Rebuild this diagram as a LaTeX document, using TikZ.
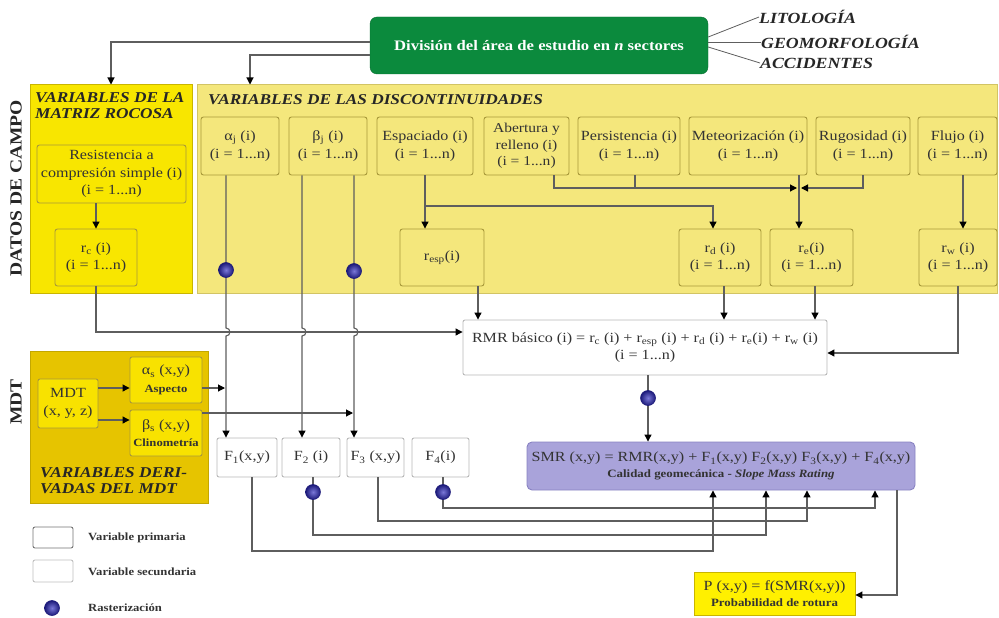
\documentclass[tikz,border=0pt]{standalone}
\usepackage{fontspec}
\setmainfont{Liberation Serif}[FakeStretch=1.15]
\usetikzlibrary{arrows.meta}
\definecolor{lineC}{HTML}{5E5E5E}
\definecolor{txtC}{HTML}{333333}
\definecolor{matFill}{HTML}{F8E600}
\definecolor{matDraw}{HTML}{C9B500}
\definecolor{discFill}{HTML}{F4E77C}
\definecolor{discDraw}{HTML}{D2C464}
\definecolor{innerDraw}{HTML}{A8993A}
\definecolor{mdtFill}{HTML}{E6C400}
\definecolor{mdtInner}{HTML}{F8E200}
\definecolor{greenC}{HTML}{0B8A3D}
\definecolor{smrFill}{HTML}{A9A3DA}
\definecolor{smrDraw}{HTML}{8983C2}
\definecolor{pFill}{HTML}{FFF000}
\definecolor{dotIn}{HTML}{7A78D8}
\definecolor{dotOut}{HTML}{1C1A7A}
\newcommand{\subtxtfont}{\fontsize{11.2}{13}\selectfont\bfseries}
\begin{document}
\begin{tikzpicture}[x=1pt,y=-1pt,
  line/.style={draw=lineC, line width=1.1pt},
  arr/.style={line, -{Triangle[length=7pt,width=7pt,color=black]}},
  boxtxt/.style={align=center, inner sep=1pt, text=txtC, font=\fontsize{14}{17.5}\selectfont},
  ybox/.style={boxtxt, draw=innerDraw, fill=discFill, line width=0.9pt, rounded corners=2.5pt},
  mbox/.style={boxtxt, draw=innerDraw, fill=matFill, line width=0.9pt, rounded corners=2.5pt},
  dbox/.style={boxtxt, draw=innerDraw, fill=mdtInner, line width=0.9pt, rounded corners=2pt},
  wbox/.style={boxtxt, draw=black!28, fill=white, line width=0.9pt, rounded corners=2pt},
  bigbox/.style={line width=1pt},
  title/.style={font=\fontsize{15}{17}\selectfont\bfseries\itshape, text=black!85, align=left, inner sep=0pt},
  sidelab/.style={font=\fontsize{17}{19}\selectfont\bfseries, text=black!85, rotate=90, inner sep=0pt},
  rlab/.style={font=\fontsize{15.5}{17}\selectfont\bfseries\itshape, text=black!85, anchor=west, inner sep=0pt},
  raster/.style={circle, minimum size=15pt, inner sep=0pt, inner color=dotIn, outer color=dotOut, draw=dotOut, line width=0.6pt},
  smalltxt/.style={font=\fontsize{11}{13}\selectfont\bfseries, text=txtC, anchor=west, inner sep=0pt}
]
\useasboundingbox (0,0) rectangle (999,618);

% ---- big background boxes
\node[bigbox, draw=matDraw, fill=matFill, minimum width=162pt, minimum height=208pt, inner sep=0pt] (mat) at (111,189) {};
\node[bigbox, draw=discDraw, fill=discFill, minimum width=800pt, minimum height=208pt, inner sep=0pt] (disc) at (597,189) {};
\node[bigbox, draw=mdtFill!85!black, fill=mdtFill, minimum width=178pt, minimum height=152pt, inner sep=0pt] (mdtbg) at (119,427) {};

% ---- titles
\node[title, anchor=north west] (mattitle) at (35,92) {VARIABLES DE LA\\[-1pt]MATRIZ ROCOSA};
\node[title, anchor=north west] (disctitle) at (208,94) {VARIABLES DE LAS DISCONTINUIDADES};
\node[title, anchor=north west] (mdttitle) at (40,467) {VARIABLES DERI-\\[-1pt]VADAS DEL MDT};
\node[sidelab] (datos) at (16,188) {DATOS DE CAMPO};
\node[sidelab] (mdtlab) at (16,402) {MDT};

% ---- green box and labels
\node[fill=greenC, draw=greenC!80!black, rounded corners=7pt, minimum width=338pt, minimum height=57pt, text=white,
      font=\fontsize{14.5}{17}\selectfont\bfseries] (green) at (539,45.5) {División del área de estudio en \textit{n} sectores};
\node[rlab] (lit) at (759,17) {LITOLOGÍA};
\node[rlab] (geo) at (761,42) {GEOMORFOLOGÍA};
\node[rlab] (acc) at (760,63) {ACCIDENTES};
\draw[line, line width=0.8pt] (green.east |- 0,37) -- (lit.west);
\draw[line, line width=0.8pt] (green.east |- 0,42) -- (geo.west);
\draw[line, line width=0.8pt] (green.east |- 0,47) -- (acc.west);

% ---- matrix box content
\node[mbox, minimum width=149pt, minimum height=58pt] (res) at (111.5,174) {Resistencia a\\compresión simple (i)\\(i = 1...n)};
\node[mbox, minimum width=82pt, minimum height=57pt] (rc) at (96,257.5) {r\textsubscript{c} (i)\\(i = 1...n)};

% ---- discontinuity top row
\node[ybox, minimum width=78pt, minimum height=58pt] (aj) at (240,146) {α\textsubscript{j} (i)\\(i = 1...n)};
\node[ybox, minimum width=78pt, minimum height=58pt] (bj) at (328,146) {β\textsubscript{j} (i)\\(i = 1...n)};
\node[ybox, minimum width=96pt, minimum height=58pt] (esp) at (425,146) {Espaciado (i)\\(i = 1...n)};
\node[ybox, minimum width=85pt, minimum height=58pt, font=\fontsize{13.5}{16.5}\selectfont] (abe) at (526.5,146) {Abertura y\\relleno (i)\\(i = 1...n)};
\node[ybox, minimum width=102pt, minimum height=58pt] (per) at (629,146) {Persistencia (i)\\(i = 1...n)};
\node[ybox, minimum width=118pt, minimum height=58pt] (met) at (748,146) {Meteorización (i)\\(i = 1...n)};
\node[ybox, minimum width=94pt, minimum height=58pt] (rug) at (863,146) {Rugosidad (i)\\(i = 1...n)};
\node[ybox, minimum width=79pt, minimum height=58pt] (flu) at (957.5,146) {Flujo (i)\\(i = 1...n)};

% ---- discontinuity second row
\node[ybox, minimum width=84pt, minimum height=57pt] (resp) at (442,257.5) {r\textsubscript{esp}(i)};
\node[ybox, minimum width=82pt, minimum height=57pt] (rd) at (720,257.5) {r\textsubscript{d} (i)\\(i = 1...n)};
\node[ybox, minimum width=83pt, minimum height=57pt] (re) at (811.5,257.5) {r\textsubscript{e}(i)\\(i = 1...n)};
\node[ybox, minimum width=78pt, minimum height=57pt] (rw) at (958,257.5) {r\textsubscript{w} (i)\\(i = 1...n)};

% ---- MDT content
\node[dbox, minimum width=60pt, minimum height=49pt] (mdt) at (68,403.5) {MDT\\(x, y, z)};
\node[dbox, minimum width=72pt, minimum height=46pt] (asp) at (166,380) {α\textsubscript{s} (x,y)\\{\fontsize{11}{12}\selectfont\bfseries Aspecto}};
\node[dbox, minimum width=72pt, minimum height=46pt] (cli) at (166,433) {β\textsubscript{s} (x,y)\\{\fontsize{11}{12}\selectfont\bfseries Clinometría}};

% ---- RMR, F boxes, SMR, P
\node[wbox, minimum width=364pt, minimum height=55pt] (rmr) at (645,347.5) {RMR básico (i) = r\textsubscript{c} (i) + r\textsubscript{esp} (i) + r\textsubscript{d} (i) + r\textsubscript{e}(i) + r\textsubscript{w} (i)\\(i = 1...n)};
\node[wbox, minimum width=60pt, minimum height=39pt] (F1) at (247,457.5) {F\textsubscript{1}(x,y)};
\node[wbox, minimum width=58pt, minimum height=39pt] (F2) at (311,457.5) {F\textsubscript{2} (i)};
\node[wbox, minimum width=57pt, minimum height=39pt] (F3) at (375.5,457.5) {F\textsubscript{3} (x,y)};
\node[wbox, minimum width=57pt, minimum height=39pt] (F4) at (440.5,457.5) {F\textsubscript{4}(i)};
\node[boxtxt, draw=smrDraw, fill=smrFill, rounded corners=5pt, line width=0.9pt, minimum width=388pt, minimum height=48pt] (smr) at (721,466)
  {SMR (x,y) = RMR(x,y) + F\textsubscript{1}(x,y) F\textsubscript{2}(x,y) F\textsubscript{3}(x,y) + F\textsubscript{4}(x,y)\\[-2pt]{\subtxtfont Calidad geomecánica - \itshape Slope Mass Rating}};
\node[boxtxt, draw=matDraw, fill=pFill, line width=0.9pt, minimum width=161pt, minimum height=43pt] (P) at (774.5,593.5)
  {P (x,y) = f(SMR(x,y))\\[-2pt]{\subtxtfont Probabilidad de rotura}};

% ---- legend
\node[wbox, draw=black!55, minimum width=40pt, minimum height=21pt] (lg1) at (53,537.5) {};
\node[wbox, draw=black!25, minimum width=40pt, minimum height=22pt] (lg2) at (53,571) {};
\node[raster] (lg3) at (52,608) {};
\node[smalltxt] (lt1) at (88,538) {Variable primaria};
\node[smalltxt] (lt2) at (88,572) {Variable secundaria};
\node[smalltxt] (lt3) at (88,608) {Rasterización};

% ---- connectors from green box
\draw[arr] (green.west |- 0,42) -| (mat.north);
\draw[arr] (green.west |- 0,55) -| (250,0 |- disc.north);

% ---- matrix
\draw[arr] (rc.north |- res.south) -- (rc.north);

% ---- discontinuities internal
\draw[arr] (esp.south) -- (esp.south |- resp.north);
\draw[arr] (esp.south |- 0,206) -| (713,0 |- rd.north);
\draw[arr] (554,0 |- abe.south) |- (797,188);
\draw[line] (635,0 |- per.south) -- (635,188);
\draw[arr] (863,0 |- rug.south) |- (801,188);
\draw[arr] (799,0 |- met.south) -- (799,0 |- re.north);
\draw[arr] (963,0 |- flu.south) -- (963,0 |- rw.north);

% ---- to RMR
\draw[arr] (rc.south) |- (rmr.west |- 0,332);
\draw[arr] (478,0 |- resp.south) -- (478,0 |- rmr.north);
\draw[arr] (724,0 |- rd.south) -- (724,0 |- rmr.north);
\draw[arr] (815,0 |- re.south) -- (815,0 |- rmr.north);
\draw[arr] (rw.south) |- (rmr.east |- 0,353);

% ---- angles to F boxes (hop over the r_c line)
\draw[arr] (226,0 |- aj.south) -- (226,328) arc[start angle=-90, end angle=90, radius=4] -- (226,0 |- F1.north);
\draw[arr] (302,0 |- bj.south) -- (302,328) arc[start angle=-90, end angle=90, radius=4] -- (302,0 |- F2.north);
\draw[arr] (354,0 |- bj.south) -- (354,328) arc[start angle=-90, end angle=90, radius=4] -- (354,0 |- F3.north);
\node[raster] (d1) at (226,270) {};
\node[raster] (d2) at (354,271) {};

% ---- MDT arrows
\draw[arr] (mdt.east |- 0,388) -- (asp.west |- 0,388);
\draw[arr] (mdt.east |- 0,420) -- (cli.west |- 0,420);
\draw[arr] (asp.east |- 0,388) -- (225,388);
\draw[arr] (cli.east |- 0,413) -- (353,413);

% ---- RMR to SMR
\draw[arr] (648,0 |- rmr.south) -- (648,0 |- smr.north);
\node[raster] (d3) at (648,398) {};

% ---- F to SMR
\draw[arr] (252,0 |- F1.south) |- (713,551) -- (713,0 |- smr.south);
\draw[arr] (313,0 |- F2.south) |- (766,535) -- (766,0 |- smr.south);
\draw[arr] (378,0 |- F3.south) |- (807,521) -- (807,0 |- smr.south);
\draw[arr] (443,0 |- F4.south) |- (875,508) -- (875,0 |- smr.south);
\node[raster] (d4) at (313,492) {};
\node[raster] (d5) at (443,492) {};

% ---- SMR to P
\draw[arr] (897,0 |- smr.south) |- (P.east |- 0,595);
\end{tikzpicture}
\end{document}
